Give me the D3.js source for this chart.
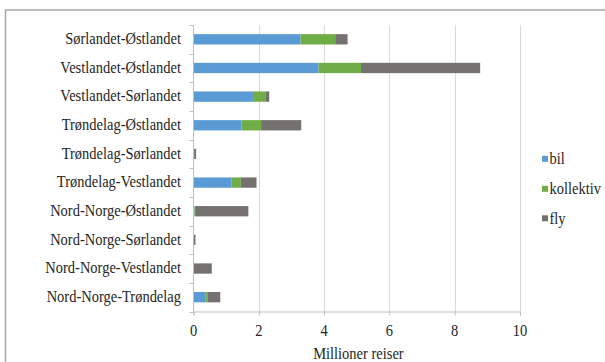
<!DOCTYPE html>
<html>
<head>
<meta charset="utf-8">
<script src="https://cdn.jsdelivr.net/npm/d3@7"></script>
<style>
  html, body { margin: 0; padding: 0; background: #fff; }
  svg { display: block; }
  text { font-family: "Liberation Serif", "Times New Roman", "DejaVu Serif", serif; fill: #262626; }
</style>
</head>
<body>
<svg id="chart" width="605" height="362"></svg>
<script>
// Reiser mellom landsdeler (millioner), fordelt på transportmiddel
const categories = [
  "Sørlandet-Østlandet",
  "Vestlandet-Østlandet",
  "Vestlandet-Sørlandet",
  "Trøndelag-Østlandet",
  "Trøndelag-Sørlandet",
  "Trøndelag-Vestlandet",
  "Nord-Norge-Østlandet",
  "Nord-Norge-Sørlandet",
  "Nord-Norge-Vestlandet",
  "Nord-Norge-Trøndelag"
];
const bil       = [3.28, 3.83, 1.82, 1.47, 0.01, 1.17, 0.03, 0.01, 0.01, 0.36];
const kollektiv = [1.06, 1.30, 0.38, 0.60, 0.01, 0.28, 0.02, 0.00, 0.00, 0.08];
const fly       = [0.38, 3.65, 0.12, 1.23, 0.06, 0.48, 1.63, 0.05, 0.55, 0.38];
const seriesNames = ["bil", "kollektiv", "fly"];
const xTicks = [0, 2, 4, 6, 8, 10];
const xTitle = "Millioner reiser";

const colors = { bil: "#5b9bd5", kollektiv: "#70ad47", fly: "#767171" };
const FONT_SIZE = 14.5;
const STRETCH = 1.22;   // tall, narrow lettering

const svg = d3.select("#chart");

// places a text element with vertical stretch about its baseline point
function label(parent, x, y, str, anchor) {
  return parent.append("text")
    .attr("transform", `translate(${x},${y}) scale(1,${STRETCH})`)
    .attr("text-anchor", anchor || "start")
    .attr("font-size", FONT_SIZE + "px")
    .text(str);
}

// outer frame
svg.append("rect")
  .attr("x", 5.5).attr("y", 10)
  .attr("width", 640).attr("height", 400)
  .attr("fill", "none").attr("stroke", "#a6a6a6").attr("stroke-width", 1.5);

const plot = { left: 193.5, right: 520, top: 25, bottom: 311.5 };

const x = d3.scaleLinear().domain([0, 10]).range([plot.left, plot.right]);
const y = d3.scaleBand().domain(categories).range([plot.top, plot.bottom]).paddingInner(0.64).paddingOuter(0.32);
const yOuter = d3.scaleBand().domain(categories).range([plot.top, plot.bottom]);

// gridlines
svg.append("g").selectAll("line")
  .data(xTicks.filter(t => t > 0))
  .join("line")
  .attr("x1", d => Math.round(x(d)) + 0.5).attr("x2", d => Math.round(x(d)) + 0.5)
  .attr("y1", plot.top).attr("y2", plot.bottom)
  .attr("stroke", "#d9d9d9").attr("stroke-width", 1);

// stacked bars
const rows = categories.map((c, i) => ({ cat: c, bil: bil[i], kollektiv: kollektiv[i], fly: fly[i] }));
const stacked = d3.stack().keys(seriesNames)(rows);

svg.append("g").selectAll("g")
  .data(stacked)
  .join("g")
  .attr("fill", d => colors[d.key])
  .selectAll("rect")
  .data(d => d)
  .join("rect")
  .attr("x", d => x(d[0]))
  .attr("width", d => Math.max(0, x(d[1]) - x(d[0])))
  .attr("y", d => y(d.data.cat))
  .attr("height", y.bandwidth());

// y axis: line, ticks between categories, category names
const yAxisG = svg.append("g");
yAxisG.append("line")
  .attr("x1", plot.left).attr("x2", plot.left)
  .attr("y1", plot.top).attr("y2", plot.bottom)
  .attr("stroke", "#bfbfbf");
const bounds = categories.map(c => yOuter(c)).concat([plot.bottom]);
yAxisG.selectAll("line.tk")
  .data(bounds)
  .join("line").attr("class", "tk")
  .attr("x1", plot.left - 4).attr("x2", plot.left)
  .attr("y1", d => Math.round(d) + 0.5).attr("y2", d => Math.round(d) + 0.5)
  .attr("stroke", "#bfbfbf");
categories.forEach(c => {
  label(yAxisG, 181, yOuter(c) + yOuter.bandwidth() / 2 + 4.8, c, "end");
});

// x axis
const xAxis = d3.axisBottom(x).tickValues(xTicks).tickSize(4).tickFormat("");
const xg = svg.append("g").attr("transform", `translate(0,${plot.bottom})`).call(xAxis);
xg.select(".domain").attr("stroke", "#bfbfbf");
xg.selectAll(".tick line").attr("stroke", "#bfbfbf");
const fmt = d3.format("d");
const xLabels = svg.append("g");
xTicks.forEach(t => label(xLabels, x(t), 336, fmt(t), "middle"));

label(svg, x(5.05), 358.5, xTitle, "middle");

// legend
const legY = [158.8, 188.8, 218.3];
const leg = svg.append("g");
seriesNames.forEach((s, i) => {
  leg.append("rect")
    .attr("x", 542).attr("y", legY[i] - 3)
    .attr("width", 6).attr("height", 6)
    .attr("fill", colors[s]);
  label(leg, 549.5, legY[i] + 5.5, s, "start");
});
</script>
</body>
</html>
